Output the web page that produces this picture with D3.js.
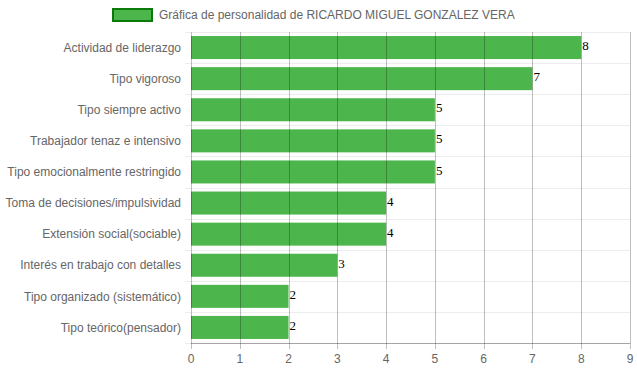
<!DOCTYPE html>
<html>
<head>
<meta charset="utf-8">
<script src="https://cdn.jsdelivr.net/npm/d3@7"></script>
<style>
  body { margin: 0; background: #fff; }
  svg { font-family: "Liberation Sans", Arial, sans-serif; }
  .val { font-family: "Liberation Serif", "Times New Roman", serif; }
</style>
</head>
<body>
<svg id="chart" width="637" height="371"></svg>
<script>
const categories = [
  "Actividad de liderazgo", "Tipo vigoroso", "Tipo siempre activo",
  "Trabajador tenaz e intensivo", "Tipo emocionalmente restringido",
  "Toma de decisiones/impulsividad", "Extensión social(sociable)",
  "Interés en trabajo con detalles", "Tipo organizado (sistemático)",
  "Tipo teórico(pensador)"
];
const values = [8, 7, 5, 5, 5, 4, 4, 3, 2, 2];
const xTicks = [0, 1, 2, 3, 4, 5, 6, 7, 8, 9];
const legendLabel = "Gráfica de personalidad de RICARDO MIGUEL GONZALEZ VERA";

const svg = d3.select("#chart"),
  margin = { top: 32, right: 7, bottom: 28, left: 191 },
  width = +svg.attr("width") - margin.left - margin.right,
  height = +svg.attr("height") - margin.top - margin.bottom;

const g = svg.append("g")
  .attr("transform", `translate(${margin.left},${margin.top})`);

const x = d3.scaleLinear().domain([0, 9]).range([0, width]);
const y = d3.scaleBand().domain(categories).range([0, height]).paddingInner(0.26).paddingOuter(0.13);

// horizontal grid (between categories)
g.append("g")
  .selectAll("line")
  .data(d3.range(categories.length + 1))
  .join("line")
  .attr("x1", -6).attr("x2", width)
  .attr("y1", i => Math.round(i * height / categories.length) + 0.5)
  .attr("y2", i => Math.round(i * height / categories.length) + 0.5)
  .attr("stroke", "rgba(0,0,0,0.07)");

// bars
g.append("g")
  .selectAll("rect")
  .data(values)
  .join("rect")
  .attr("x", 0)
  .attr("y", (d, i) => y(categories[i]))
  .attr("width", d => x(d))
  .attr("height", y.bandwidth())
  .attr("fill", "#4cb54c");

// vertical grid over bars
g.append("g")
  .selectAll("line")
  .data(xTicks)
  .join("line")
  .attr("x1", d => Math.round(x(d)) + 0.5)
  .attr("x2", d => Math.round(x(d)) + 0.5)
  .attr("y1", 0).attr("y2", height + 6)
  .attr("stroke", "rgba(0,0,0,0.25)");

// x axis line
g.append("line")
  .attr("x1", 0).attr("x2", width)
  .attr("y1", height + 0.5).attr("y2", height + 0.5)
  .attr("stroke", "rgba(0,0,0,0.3)");

// x tick labels
g.append("g")
  .selectAll("text")
  .data(xTicks)
  .join("text")
  .attr("x", d => x(d))
  .attr("y", height + 20)
  .attr("text-anchor", "middle")
  .attr("font-size", 12)
  .attr("fill", "#666")
  .text(d => d);

// category labels
g.append("g")
  .selectAll("text")
  .data(categories)
  .join("text")
  .attr("x", -10)
  .attr("y", d => y(d) + y.bandwidth() / 2)
  .attr("dy", "0.35em")
  .attr("text-anchor", "end")
  .attr("font-size", 12)
  .attr("fill", "#666")
  .text(d => d);

// value labels
g.append("g")
  .selectAll("text")
  .data(values)
  .join("text")
  .attr("class", "val")
  .attr("x", d => x(d) + 1)
  .attr("y", (d, i) => y(categories[i]) + y.bandwidth() / 2 - 2)
  .attr("dy", "0.35em")
  .attr("font-size", 13)
  .attr("fill", "#000")
  .text(d => d);

// legend
const lg = svg.append("g").attr("transform", "translate(112,8)");
lg.append("rect")
  .attr("x", 1).attr("y", 1).attr("width", 39).attr("height", 12)
  .attr("fill", "#4cb54c")
  .attr("stroke", "#0a7a0a")
  .attr("stroke-width", 2);
lg.append("text")
  .attr("x", 47).attr("y", 7)
  .attr("dy", "0.35em")
  .attr("font-size", 12)
  .attr("fill", "#666")
  .text(legendLabel);
</script>
</body>
</html>
